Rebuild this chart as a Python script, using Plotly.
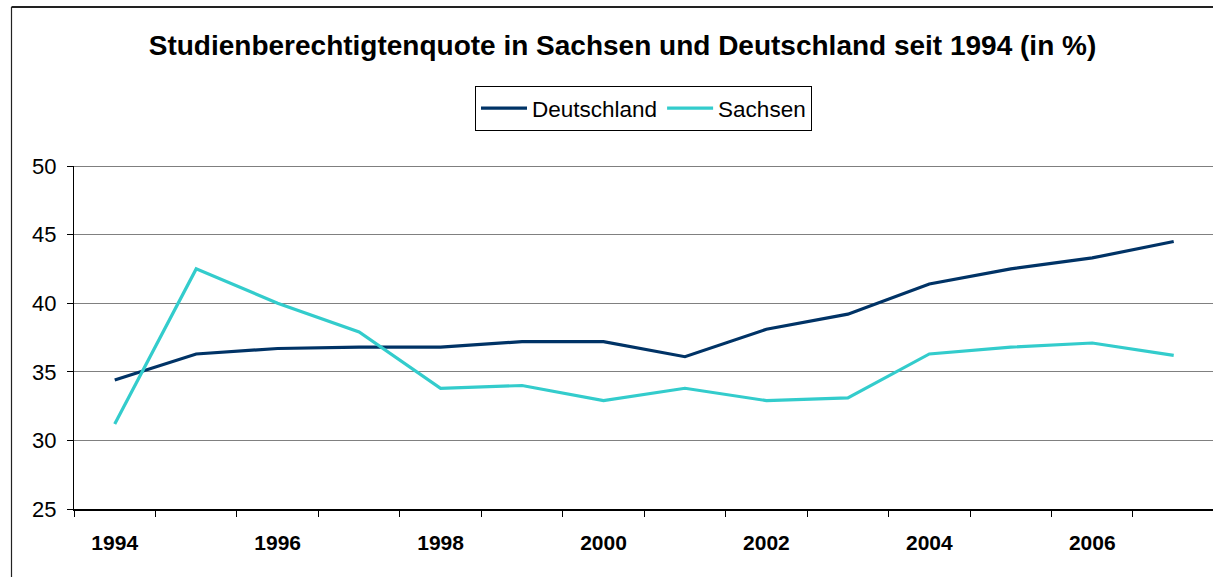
import plotly.graph_objects as go

years = ["1994", "1995", "1996", "1997", "1998", "1999", "2000",
         "2001", "2002", "2003", "2004", "2005", "2006", "2007"]
deutschland = [34.4, 36.3, 36.7, 36.8, 36.8, 37.2, 37.2,
               36.1, 38.1, 39.2, 41.4, 42.5, 43.3, 44.5]
sachsen = [31.2, 42.5, 40.0, 37.9, 33.8, 34.0, 32.9,
           33.8, 32.9, 33.1, 36.3, 36.8, 37.1, 36.2]
tick_labels = ["1994", "", "1996", "", "1998", "", "2000",
               "", "2002", "", "2004", "", "2006", ""]
y_ticks = [25, 30, 35, 40, 45, 50]

FONT = "Liberation Sans, Arial, sans-serif"
W, H = 1213, 577
L, T, B = 74, 166, 68
PW, PH = W - L, H - T - B


def px_x(p):
    return (p - L) / PW


def px_y(p):
    return (H - B - p) / PH


fig = go.Figure()
fig.add_trace(go.Scatter(x=years, y=deutschland, name="Deutschland", mode="lines",
                         line=dict(color="#003366", width=3.2)))
fig.add_trace(go.Scatter(x=years, y=sachsen, name="Sachsen", mode="lines",
                         line=dict(color="#33CCCC", width=3.2)))

fig.update_layout(
    width=W, height=H,
    margin=dict(l=L, r=0, t=T, b=B),
    paper_bgcolor="white", plot_bgcolor="white",
    font=dict(family=FONT, color="black"),
    title=dict(text="<b>Studienberechtigtenquote in Sachsen und Deutschland seit 1994 (in %)</b>",
               font=dict(size=28, family=FONT, color="black"),
               x=622.5 / W, xanchor="center", y=1 - 45.2 / H, yanchor="middle",
               xref="container", yref="container"),
    legend=dict(orientation="h", x=px_x(475), xanchor="left", y=px_y(86), yanchor="top",
                bordercolor="black", borderwidth=1, bgcolor="white",
                font=dict(size=22.5, family=FONT, color="black"),
                itemwidth=46, tracegroupgap=0),
    showlegend=True,
)

fig.update_xaxes(type="category", range=[-0.5, -0.5 + PW / 81.46],
                 tickmode="array", tickvals=years, ticktext=tick_labels,
                 tickson="boundaries", ticks="outside", ticklen=6, tickwidth=1,
                 tickcolor="black", showline=True, linecolor="black", linewidth=1.5,
                 showgrid=False, zeroline=False, ticklabelstandoff=14,
                 tickfont=dict(size=21, family=FONT, color="black", weight="bold"))
fig.update_yaxes(range=[25, 50], tickmode="array", tickvals=y_ticks,
                 ticks="outside", ticklen=6, tickwidth=1, tickcolor="black",
                 showline=True, linecolor="black", linewidth=1,
                 showgrid=True, gridcolor="#808080", gridwidth=1, zeroline=False,
                 ticklabelstandoff=6,
                 tickfont=dict(size=22, family=FONT, color="black"))

# top edge line of plot area and outer chart frame
fig.add_shape(type="line", xref="paper", yref="y", x0=0, x1=1, y0=50, y1=50,
              line=dict(color="black", width=1.2), layer="above")
fig.add_shape(type="line", xref="paper", yref="paper", x0=px_x(11.5), x1=px_x(W + 5),
              y0=px_y(7), y1=px_y(7), line=dict(color="#222222", width=2.2))
fig.add_shape(type="line", xref="paper", yref="paper", x0=px_x(11.5), x1=px_x(11.5),
              y0=px_y(7), y1=px_y(H + 5), line=dict(color="#222222", width=1.2))

fig.write_html("out.html", config={"displayModeBar": False},
               post_script="document.body.style.margin='0';document.body.style.overflow='hidden';")
